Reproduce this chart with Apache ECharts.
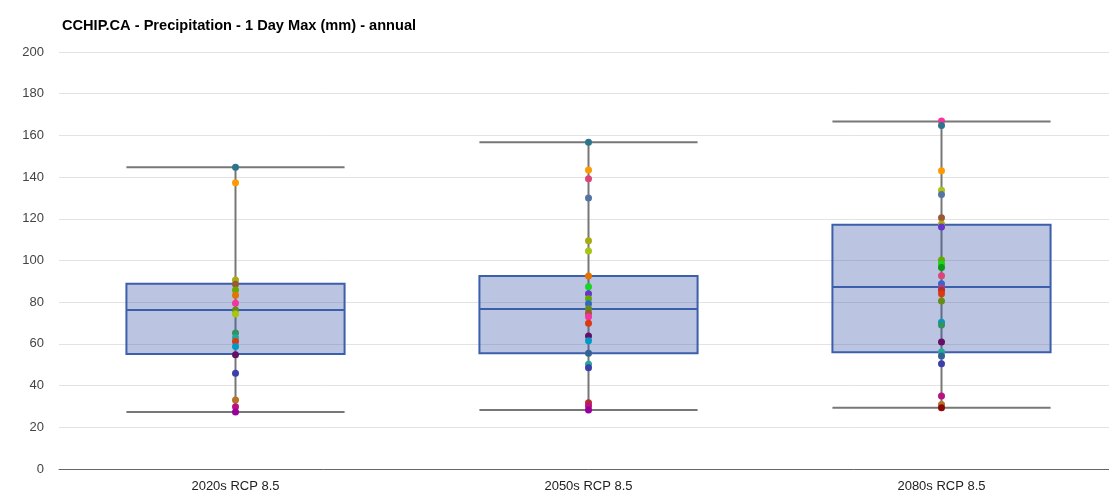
<!DOCTYPE html>
<html>
<head>
<meta charset="utf-8">
<script src="https://cdn.jsdelivr.net/npm/echarts@6/dist/echarts.min.js"></script>
<style>
html,body{margin:0;padding:0;background:#fff;overflow:hidden;}
#chart{width:1118px;height:493px;}
</style>
</head>
<body>
<div id="chart"></div>
<script>
var categories = ['2020s RCP 8.5', '2050s RCP 8.5', '2080s RCP 8.5'];
var yTicks = [0, 20, 40, 60, 80, 100, 120, 140, 160, 180, 200];

// box statistics: [min, Q1, median, Q3, max]
var boxStats = [
  [27.3, 55.2, 76.3, 88.9, 144.7],
  [28.3, 55.5, 76.7, 92.6, 156.7],
  [29.4, 56.0, 87.3, 117.2, 166.7]
];

// individual model values per category
var values2020s = [144.7, 137.3, 90.6, 88.6, 85.9, 83.3, 79.5, 76.3, 74.3, 65.2, 63.0, 61.2, 58.7, 54.8, 45.9, 33.1, 29.9, 27.3];
var values2050s = [156.7, 143.4, 139.2, 130.0, 109.5, 104.6, 92.6, 87.4, 84.1, 81.7, 79.3, 76.9, 74.7, 73.0, 69.9, 63.8, 61.5, 55.5, 50.2, 48.6, 31.8, 30.2, 28.3];
var values2080s = [166.9, 164.7, 143.1, 133.7, 131.6, 120.5, 117.5, 116.1, 100.2, 98.3, 96.7, 92.7, 88.9, 87.1, 85.7, 84.1, 80.6, 70.4, 69.1, 60.9, 56.1, 54.2, 50.5, 35.0, 30.9, 29.4];

// dot colours (style, kept apart from the values)
var colors2020s = ['#2a778d','#ff9900','#aaaa11','#9c5935','#66aa00','#e67300','#f4359e','#668d1c','#a9c413','#329262','#22aa99','#dc3912','#0099c6','#651067','#3b3eac','#b77322','#b91383','#990099'];
var colors2050s = ['#2a778d','#ff9900','#dd4477','#5574a6','#aaaa11','#a9c413','#e67300','#16d620','#6633cc','#66aa00','#3366cc','#668d1c','#9c5935','#f4359e','#dc3912','#651067','#0099c6','#316395','#22aa99','#3b3eac','#b82e2e','#b91383','#990099'];
var colors2080s = ['#f4359e','#2a778d','#ff9900','#a9c413','#5574a6','#9c5935','#aaaa11','#6633cc','#66aa00','#16d620','#109618','#dd4477','#3366cc','#994499','#b82e2e','#dc3912','#668d1c','#0099c6','#329262','#651067','#22aa99','#316395','#3b3eac','#b91383','#b77322','#8b0707'];

var allValues = [values2020s, values2050s, values2080s];
var allColors = [colors2020s, colors2050s, colors2080s];

var BOX_FRAC = 0.618;

var chart = echarts.init(document.getElementById('chart'), null, {renderer: 'canvas'});

var whiskerData = boxStats.map(function (s, i) { return [i, s[0], s[4]]; });
var boxData = boxStats.map(function (s) { return [s[1], s[1], s[2], s[3], s[3]]; });

var series = [
  {
    type: 'custom',
    z: 2,
    data: whiskerData,
    encode: {x: 0, y: [1, 2]},
    renderItem: function (params, api) {
      var c = api.value(0);
      var lo = api.coord([c, api.value(1)]);
      var hi = api.coord([c, api.value(2)]);
      var half = api.size([1, 0])[0] * BOX_FRAC / 2;
      var st = {stroke: '#777777', lineWidth: 2};
      return {
        type: 'group',
        children: [
          {type: 'line', shape: {x1: lo[0], y1: lo[1], x2: hi[0], y2: hi[1]}, style: st},
          {type: 'line', shape: {x1: lo[0] - half, y1: lo[1], x2: lo[0] + half, y2: lo[1]}, style: st},
          {type: 'line', shape: {x1: hi[0] - half, y1: hi[1], x2: hi[0] + half, y2: hi[1]}, style: st}
        ]
      };
    }
  },
  {
    type: 'boxplot',
    z: 3,
    data: boxData,
    boxWidth: ['61.8%', '61.8%'],
    itemStyle: {color: 'rgba(60,90,170,0.35)', borderColor: '#3c5fab', borderWidth: 2},
    emphasis: {disabled: true},
    silent: true
  }
];

allValues.forEach(function (vals, ci) {
  series.push({
    type: 'scatter',
    z: 4,
    symbolSize: 7,
    data: vals.map(function (v) { return [ci, v]; }),
    itemStyle: {
      opacity: 1,
      color: function (p) { return allColors[ci][p.dataIndex]; }
    },
    silent: true
  });
});

chart.setOption({
  animation: false,
  backgroundColor: '#ffffff',
  title: {
    text: 'CCHIP.CA - Precipitation - 1 Day Max (mm) - annual',
    left: 57,
    top: 13,
    textStyle: {fontFamily: 'Liberation Sans, Arial, sans-serif', fontSize: 14.6, fontWeight: 'bold', color: '#000'}
  },
  grid: {left: 59, top: 52, bottom: 24, right: 0},
  xAxis: {
    type: 'category',
    data: categories,
    boundaryGap: true,
    axisLine: {lineStyle: {color: '#666', width: 1}},
    axisTick: {show: false},
    axisLabel: {color: '#222', fontSize: 13, fontFamily: 'Liberation Sans, Arial, sans-serif', margin: 11},
    splitLine: {show: false}
  },
  yAxis: {
    type: 'value',
    min: yTicks[0],
    max: yTicks[yTicks.length - 1],
    interval: yTicks[1] - yTicks[0],
    axisLine: {show: false},
    axisTick: {show: false},
    axisLabel: {color: '#444', fontSize: 13, fontFamily: 'Liberation Sans, Arial, sans-serif', margin: 15},
    splitLine: {lineStyle: {color: '#e3e3e3', width: 1}}
  },
  series: series
});
</script>
</body>
</html>
